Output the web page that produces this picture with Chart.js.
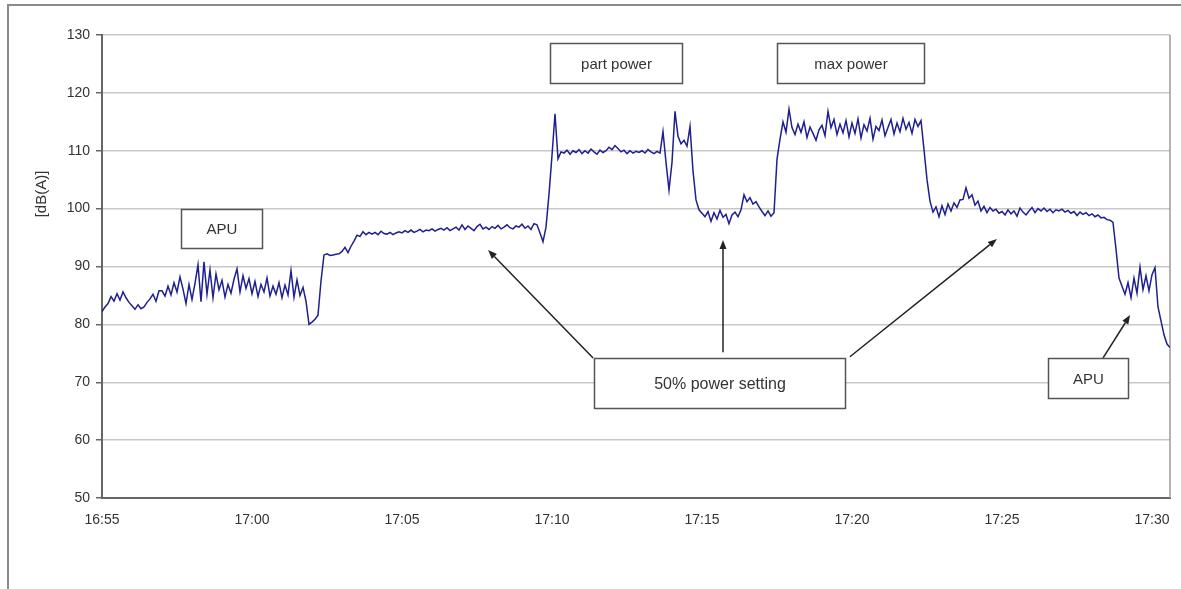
<!DOCTYPE html>
<html>
<head>
<meta charset="utf-8">
<script src="https://cdn.jsdelivr.net/npm/chart.js@4.4.1/dist/chart.umd.min.js"></script>
<style>
html,body{margin:0;padding:0;background:#fff;}
#c{display:block;}
</style>
</head>
<body>
<canvas id="c" width="1181" height="589"></canvas>
<script>
// ---- data ----
const TIME_TICK_LABELS = ['16:55','17:00','17:05','17:10','17:15','17:20','17:25','17:30'];
const TIME_TICK_MINUTES = [0,5,10,15,20,25,30,35];
const SAMPLE_STEP_MIN = 0.1;   // one sample every 6 s
const X_MAX_MIN = 35.6;
const Y_TICKS = [50,60,70,80,90,100,110,120,130];
const Y_TITLE = '[dB(A)]';

// sound level [dB(A)] – one row per minute (10 samples)
const levelMin00_09 = [
  82.2,83.0,83.6,84.8,84.0,85.3,84.2,85.6,84.6,83.8,
  83.2,82.6,83.4,82.7,83.0,83.8,84.4,85.2,84.0,85.8,
  85.8,84.9,86.6,85.1,87.2,85.6,88.2,86.1,83.6,86.9,
  84.3,87.1,90.3,83.9,90.8,85.2,89.4,84.6,88.7,86.0,
  87.6,84.7,86.9,85.4,87.8,89.6,85.6,88.4,86.2,87.9,
  85.3,87.4,84.8,86.9,85.6,88.0,84.9,86.6,85.2,87.2,
  84.6,86.8,85.1,89.3,84.7,87.7,85.0,86.4,84.0,80.0,
  80.4,80.9,81.6,87.5,92.0,92.2,91.9,92.0,92.1,92.2,
  92.6,93.3,92.4,93.5,94.4,95.4,95.2,96.0,95.5,95.9,
  95.6,95.9,95.5,96.1,95.7,95.6,95.9,95.5,95.8,96.0
];
const levelMin10_19 = [
  95.8,96.2,95.9,96.3,95.9,96.1,96.4,96.0,96.3,96.2,
  96.5,96.1,96.4,96.6,96.3,96.7,96.2,96.5,96.8,96.3,
  97.2,96.4,97.0,96.6,96.2,96.9,97.3,96.5,96.8,96.4,
  96.9,96.6,97.1,96.5,96.8,97.2,96.7,96.5,97.0,96.8,
  97.3,96.6,97.0,96.4,97.4,97.2,95.8,94.3,96.8,102.5,
  109.2,116.4,108.6,109.8,109.6,110.1,109.4,110.0,109.7,110.2,
  109.5,110.0,109.6,110.3,109.8,109.4,110.1,109.7,110.0,110.6,
  110.2,110.9,110.4,109.8,110.1,109.5,110.0,109.6,109.9,109.7,
  110.0,109.6,110.2,109.8,109.5,109.9,109.6,113.3,108.0,103.2,
  108.0,116.8,112.5,111.2,111.8,110.8,114.2,106.5,101.5,99.8
];
const levelMin20_29 = [
  99.2,98.6,99.5,97.8,99.3,98.2,99.7,98.5,99.0,97.4,
  98.9,99.4,98.6,99.8,102.4,101.2,101.9,100.8,101.2,100.3,
  99.5,98.8,99.6,98.7,99.3,108.5,112.0,115.0,113.2,117.2,
  114.0,112.8,114.6,113.2,115.0,112.3,114.1,113.0,111.8,113.6,
  114.4,112.6,116.8,114.0,115.4,112.8,114.6,113.1,115.2,112.4,
  114.8,113.0,115.5,112.2,114.5,113.4,115.6,112.0,114.2,113.5,
  115.3,112.6,114.0,115.4,112.9,114.8,113.3,115.6,113.7,114.9,
  113.0,115.4,114.2,115.2,110.2,105.0,101.3,99.4,100.3,98.6,
  100.5,99.0,100.8,99.6,101.0,100.2,101.5,101.6,103.6,101.8,
  102.4,100.6,101.3,99.6,100.4,99.3,100.2,99.6,99.9,99.2
];
const levelMin30_35 = [
  99.5,98.9,99.8,99.1,99.6,98.7,100.1,99.4,98.9,99.6,
  100.2,99.3,100.0,99.6,100.1,99.5,99.9,99.3,99.8,99.6,
  99.9,99.4,99.7,99.2,99.5,98.8,99.4,99.0,99.3,98.8,
  99.1,98.6,98.9,98.4,98.5,98.1,98.0,97.6,93.0,88.0,
  86.6,85.2,87.2,84.6,88.0,85.4,89.9,86.0,88.4,85.8,
  88.6,89.8,83.0,80.6,78.2,76.6,76.0
];
const levelValues = [...levelMin00_09, ...levelMin10_19, ...levelMin20_29, ...levelMin30_35];

// annotation texts and their anchors in data units (minutes after 16:55, dB)
const ANNOT_BOXES = [
  {text:'APU',               t0:2.63,  t1:5.33,  v0:99.9,  v1:93.2},
  {text:'part power',        t0:14.93, t1:19.33, v0:128.6, v1:121.7},
  {text:'max power',         t0:22.5,  t1:27.4,  v0:128.6, v1:121.7},
  {text:'50% power setting', t0:16.4,  t1:24.77, v0:74.2,  v1:65.55},
  {text:'APU',               t0:31.53, t1:34.2,  v0:74.2,  v1:67.3}
];
const ANNOT_ARROWS = [
  {t0:16.37, v0:74.2, t1:12.87, v1:92.85},
  {t0:20.70, v0:75.2, t1:20.70, v1:94.6},
  {t0:24.93, v0:74.4, t1:29.83, v1:94.75},
  {t0:33.37, v0:74.2, t1:34.27, v1:81.6}
];

const points = levelValues.map((v,i) => ({x: +(i*SAMPLE_STEP_MIN).toFixed(2), y: v}));

const FONT = '"Liberation Sans", Arial, sans-serif';

const decor = {
  id: 'decor',
  beforeDatasetsDraw(chart) {
    const ctx = chart.ctx, a = chart.chartArea;
    ctx.save();
    ctx.strokeStyle = '#8a8a8a';
    ctx.lineWidth = 2;
    ctx.beginPath();
    ctx.moveTo(8, 589); ctx.lineTo(8, 5); ctx.lineTo(1181, 5);
    ctx.stroke();
    ctx.strokeStyle = '#9a9a9a';
    ctx.lineWidth = 1.5;
    ctx.beginPath();
    ctx.moveTo(a.right, a.top); ctx.lineTo(a.right, a.bottom);
    ctx.stroke();
    ctx.restore();
  },
  afterDatasetsDraw(chart) {
    const ctx = chart.ctx;
    const xs = chart.scales.x, ys = chart.scales.y;
    ctx.save();
    ctx.strokeStyle = '#222';
    ctx.fillStyle = '#222';
    ctx.lineWidth = 1.5;
    ANNOT_ARROWS.forEach(ar => {
      const x0 = xs.getPixelForValue(ar.t0), y0 = ys.getPixelForValue(ar.v0);
      const x1 = xs.getPixelForValue(ar.t1), y1 = ys.getPixelForValue(ar.v1);
      const ang = Math.atan2(y1 - y0, x1 - x0);
      const L = 9, W = 3.5;
      const bx = x1 - L*Math.cos(ang), by = y1 - L*Math.sin(ang);
      ctx.beginPath(); ctx.moveTo(x0, y0); ctx.lineTo(bx, by); ctx.stroke();
      ctx.beginPath();
      ctx.moveTo(x1, y1);
      ctx.lineTo(bx + W*Math.sin(ang), by - W*Math.cos(ang));
      ctx.lineTo(bx - W*Math.sin(ang), by + W*Math.cos(ang));
      ctx.closePath(); ctx.fill();
    });
    ANNOT_BOXES.forEach(b => {
      const x0 = Math.round(xs.getPixelForValue(b.t0)) + 0.5, x1 = Math.round(xs.getPixelForValue(b.t1)) + 0.5;
      const y0 = Math.round(ys.getPixelForValue(b.v0)) + 0.5, y1 = Math.round(ys.getPixelForValue(b.v1)) + 0.5;
      ctx.fillStyle = '#fff';
      ctx.fillRect(x0, y0, x1 - x0, y1 - y0);
      ctx.strokeStyle = '#555';
      ctx.lineWidth = 1.5;
      ctx.strokeRect(x0, y0, x1 - x0, y1 - y0);
      ctx.fillStyle = '#333';
      ctx.font = (b.text.length > 12 ? '16px ' : '15px ') + FONT;
      ctx.textAlign = 'center';
      ctx.textBaseline = 'middle';
      ctx.fillText(b.text, (x0 + x1)/2, (y0 + y1)/2 + 1);
    });
    ctx.translate(42, 194);
    ctx.rotate(-Math.PI/2);
    ctx.fillStyle = '#333';
    ctx.font = '15px ' + FONT;
    ctx.textAlign = 'center';
    ctx.textBaseline = 'middle';
    ctx.fillText(Y_TITLE, 0, 0);
    ctx.restore();
  }
};

new Chart(document.getElementById('c'), {
  type: 'line',
  data: {
    datasets: [{
      label: 'dB(A)',
      data: points,
      borderColor: '#1f1f8f',
      borderWidth: 1.5,
      pointRadius: 0,
      tension: 0,
      fill: false
    }]
  },
  options: {
    responsive: false,
    animation: false,
    devicePixelRatio: 1,
    layout: {padding: {top: 35, right: 11, left: 0, bottom: 0}},
    plugins: {legend: {display: false}, tooltip: {enabled: false}},
    scales: {
      x: {
        type: 'linear',
        min: 0,
        max: X_MAX_MIN,
        afterFit(s) { s.height = 91; s.paddingLeft = 0; s.paddingRight = 0; },
        afterBuildTicks(s) { s.ticks = TIME_TICK_MINUTES.map(v => ({value: v})); },
        ticks: {
          includeBounds: false,
          maxRotation: 0,
          autoSkip: false,
          padding: 14,
          color: '#333',
          font: {family: FONT, size: 14},
          callback: (v) => TIME_TICK_LABELS[TIME_TICK_MINUTES.indexOf(v)]
        },
        grid: {display: false, drawTicks: false},
        border: {color: '#666', width: 2}
      },
      y: {
        min: 50,
        max: 130,
        afterFit(s) { s.width = 102; },
        afterBuildTicks(s) { s.ticks = Y_TICKS.map(v => ({value: v})); },
        ticks: {
          color: '#333',
          padding: 6,
          font: {family: FONT, size: 14}
        },
        grid: {color: '#c8c8c8', lineWidth: 1.5, tickLength: 6, tickColor: '#666'},
        border: {color: '#666', width: 2}
      }
    }
  },
  plugins: [decor]
});
</script>
</body>
</html>
